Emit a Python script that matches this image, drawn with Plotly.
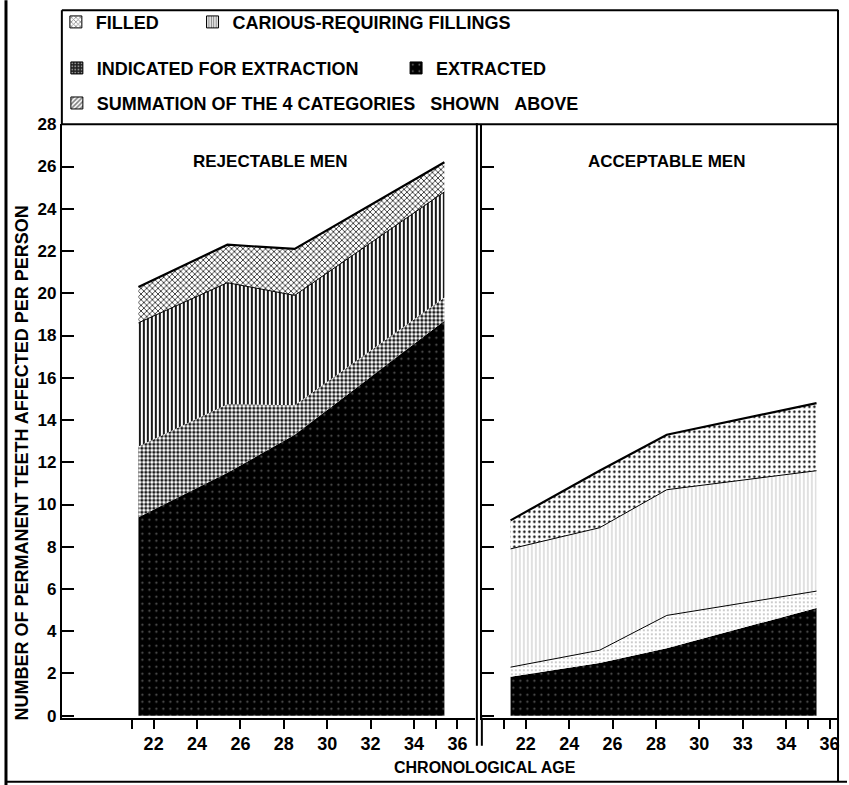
import plotly.graph_objects as go

# ---------------- data ----------------
ages = [21.3, 25.4, 28.5, 35.4]          # chronological age at the plotted points

# Rejectable men: teeth per person in each category (stacked bottom -> top)
rej_extracted = [9.4, 11.5, 13.3, 18.7]
rej_indicated = [3.35, 3.25, 1.4, 1.1]
rej_carious = [5.85, 5.75, 5.2, 5.0]
rej_filled = [1.7, 1.8, 2.2, 1.4]

# Acceptable men
acc_extracted = [1.85, 2.5, 3.2, 5.1]
acc_indicated = [0.45, 0.6, 1.55, 0.8]
acc_carious = [5.6, 5.8, 5.95, 5.7]
acc_filled = [1.35, 2.7, 2.6, 3.2]

# axis ticks
y_ticks = list(range(0, 29, 2))
x_tickvals = [21, 22, 24, 26, 28, 30, 32, 34, 35, 36]
x_ticktext_left = ["", "22", "24", "26", "28", "30", "32", "34", "", "36"]
x_ticktext_right = ["", "22", "24", "26", "28", "30", "33", "34", "", "36"]

NB = "\u00a0"
category_names = ["FILLED", "CARIOUS-REQUIRING FILLINGS", "INDICATED FOR EXTRACTION",
                  "EXTRACTED",
                  "SUMMATION OF THE 4 CATEGORIES" + NB * 3 + "SHOWN" + NB * 3 + "ABOVE"]

# ---------------- helpers ----------------
W, H = 849, 800
FONT = "Liberation Sans"
V_OFF, V_SCALE = 8.8, 0.978   # vertical placement correction of the page photograph


def px(x):
    return x / W


def py(y):
    return 1 - ((y - V_OFF) / V_SCALE) / H


def bold(size):
    return dict(family=FONT, size=size, color="black", weight="bold")


fig = go.Figure()

styles = {
    "extracted": dict(shape=".", fgcolor="#5a5a5a", bgcolor="black", size=7, solidity=0.08),
    "indicated_l": dict(shape=".", fgcolor="white", bgcolor="black", size=4, solidity=0.6),
    "indicated_r": dict(shape=".", fgcolor="#888888", bgcolor="white", size=4, solidity=0.12),
    "carious_l": dict(shape="|", fgcolor="black", bgcolor="white", size=4, solidity=0.45),
    "carious_r": dict(shape="|", fgcolor="#d4d4d4", bgcolor="white", size=4, solidity=0.35),
    "filled_l": dict(shape="x", fgcolor="black", bgcolor="white", size=4, solidity=0.33),
    "filled_r": dict(shape=".", fgcolor="black", bgcolor="white", size=5, solidity=0.18),
}


def add_panel(xa, ya, group, ext, ind, car, fil, side):
    layers = [
        ("EXTRACTED", ext, styles["extracted"], dict(width=0, color="black")),
        ("INDICATED FOR EXTRACTION", ind, styles["indicated_" + side],
         dict(width=1 if side == "r" else 0, color="black")),
        ("CARIOUS-REQUIRING FILLINGS", car, styles["carious_" + side], dict(width=1, color="black")),
        ("FILLED", fil, styles["filled_" + side], dict(width=2.2, color="black")),
    ]
    for name, vals, pat, line in layers:
        fig.add_trace(go.Scatter(
            x=ages, y=vals, name=name, mode="lines", stackgroup=group,
            fillpattern=dict(fillmode="replace", **pat), fillcolor=pat["bgcolor"],
            line=line, showlegend=False, xaxis=xa, yaxis=ya,
            hoverinfo="x+y+name"))


add_panel("x", "y", "rej", rej_extracted, rej_indicated, rej_carious, rej_filled, "l")
add_panel("x2", "y2", "acc", acc_extracted, acc_indicated, acc_carious, acc_filled, "r")

# legend proxies (one legend per entry so that the layout matches the printed key)
legend_patterns = [
    dict(shape="x", fgcolor="black", bgcolor="white", size=4, solidity=0.4),
    dict(shape="|", fgcolor="black", bgcolor="white", size=3, solidity=0.5),
    dict(shape=".", fgcolor="white", bgcolor="#222222", size=4, solidity=0.3),
    dict(shape=".", fgcolor="white", bgcolor="black", size=8, solidity=0.05),
    dict(shape="/", fgcolor="black", bgcolor="white", size=4, solidity=0.5),
]
legend_ids = ["legend", "legend2", "legend3", "legend4", "legend5"]
for name, pat, lg in zip(category_names, legend_patterns, legend_ids):
    fig.add_trace(go.Bar(x=[None], y=[None], name=name, legend=lg,
                         marker=dict(color=pat["bgcolor"], pattern=pat,
                                     line=dict(color="black", width=1)),
                         xaxis="x", yaxis="y"))

legend_pos = {  # (left px, centre-y px)
    "legend": (56, 22),
    "legend2": (193, 22),
    "legend3": (57, 68),
    "legend4": (397, 68),
    "legend5": (57, 103),
}
legend_layout = {}
for lg, (lx, ly) in legend_pos.items():
    legend_layout[lg] = dict(x=px(lx), y=py(ly), xanchor="left", yanchor="middle",
                             orientation="h", font=bold(18), bgcolor="rgba(0,0,0,0)",
                             borderwidth=0, itemwidth=30)

axis_common = dict(showgrid=False, zeroline=False, showline=True, linecolor="black",
                   linewidth=2, tickcolor="black", tickwidth=2)

y_lo = (715 - 717) / ((715 - 124) / 28)
fig.update_layout(
    width=W, height=H, margin=dict(l=0, r=0, t=0, b=0, pad=0),
    paper_bgcolor="white", plot_bgcolor="white",
    barmode="overlay",
    xaxis=dict(domain=[px(62), px(476)], range=[22 + (62 - 154) / 21.75, 22 + (476 - 154) / 21.75],
               tickmode="array", tickvals=x_tickvals, ticktext=x_ticktext_left,
               ticks="outside", ticklen=9, tickfont=bold(18), anchor="y", **axis_common),
    xaxis2=dict(domain=[px(483), px(840)], range=[22 + (483 - 527) / 21.75, 22 + (840 - 527) / 21.75],
                tickmode="array", tickvals=x_tickvals, ticktext=x_ticktext_right,
                ticks="outside", ticklen=9, tickfont=bold(18), anchor="y2", **axis_common),
    yaxis=dict(domain=[py(717), py(124)], range=[y_lo, 28], tickmode="array", tickvals=y_ticks,
               ticks="inside", ticklen=12, tickfont=bold(17), anchor="x", **axis_common),
    yaxis2=dict(domain=[py(717), py(124)], range=[y_lo, 28], matches="y", tickmode="array",
                tickvals=y_ticks, ticks="inside", ticklen=12, showticklabels=False,
                anchor="x2", **axis_common),
    **legend_layout,
)

# titles
fig.add_annotation(x=px(271), y=py(161), xref="paper", yref="paper", text="REJECTABLE MEN",
                   xanchor="center", yanchor="middle", showarrow=False, font=bold(17))
fig.add_annotation(x=px(668), y=py(161), xref="paper", yref="paper", text="ACCEPTABLE MEN",
                   xanchor="center", yanchor="middle", showarrow=False, font=bold(17))
fig.add_annotation(x=px(486), y=py(767), xref="paper", yref="paper", text="CHRONOLOGICAL AGE",
                   xanchor="center", yanchor="middle", showarrow=False, font=bold(16))
fig.add_annotation(x=px(22), y=py(462), xref="paper", yref="paper",
                   text="NUMBER OF PERMANENT TEETH AFFECTED PER PERSON",
                   xanchor="center", yanchor="middle",
                   textangle=-90, showarrow=False, font=bold(18))

# frame / box lines (decoration)
frame = [
    (6, 0, 6, 785, 3),          # left frame
    (6, 781, 849, 781, 2),      # bottom frame
    (840, 9.5, 840, 781, 2),    # right frame
    (62, 10, 840, 10, 2),       # key box top
    (62, 10, 62, 124, 2),       # key box left
    (62, 124, 840, 124, 2),     # key box bottom / plot top
    (478, 123, 478, 745, 2),    # panel divider
    (483, 717, 483, 745, 2),    # divider (second line) below axis
]
for x0, y0, x1, y1, w in frame:
    fig.add_shape(type="line", xref="paper", yref="paper", x0=px(x0), y0=py(y0),
                  x1=px(x1), y1=py(y1), line=dict(color="black", width=w))

fig.write_html(
    "out.html",
    config={"displayModeBar": False},
    post_script="document.body.style.margin='0';"
                "document.body.style.overflow='hidden';"
                "document.documentElement.style.overflow='hidden';",
)
